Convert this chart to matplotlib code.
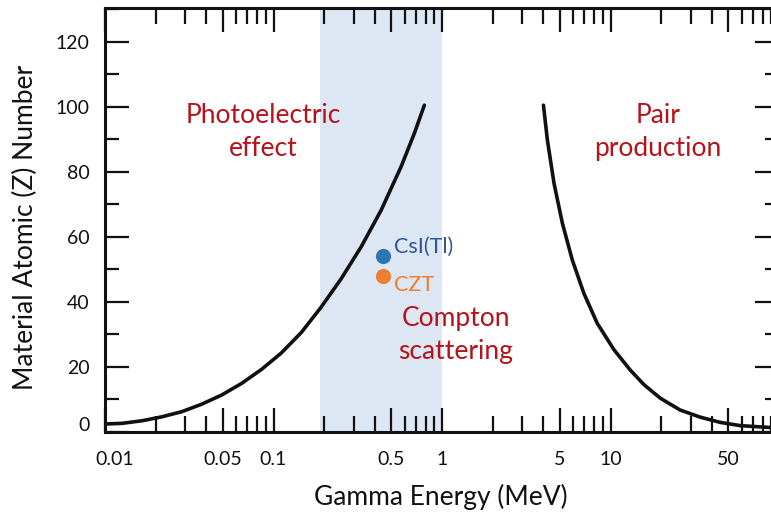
import numpy as np
import matplotlib.pyplot as plt
import matplotlib.transforms as mtransforms
from matplotlib.ticker import FixedLocator, NullFormatter

plt.rcParams['font.family'] = ['Lato', 'DejaVu Sans']

# photoelectric / compton boundary
pe_energy = [0.01, 0.0126, 0.0166, 0.0217, 0.0286, 0.0375, 0.0492, 0.0647, 0.0849,
             0.111, 0.1465, 0.192, 0.253, 0.332, 0.4355, 0.572, 0.685, 0.786]
pe_z = [2.4, 2.6, 3.4, 4.6, 6.2, 8.5, 11.3, 14.9, 19.2,
        24.2, 30.6, 38.4, 47.2, 57.0, 68.2, 81.6, 91.8, 100.5]

# compton / pair production boundary
pp_energy = [4.0, 4.22, 4.62, 5.18, 5.93, 6.95, 8.34, 10.5, 13.1, 15.8,
             19.8, 25.9, 34.1, 44.8, 58.8, 90.0]
pp_z = [100.5, 89.8, 76.5, 64.2, 52.9, 42.6, 33.4, 25.2, 19.0, 14.5,
        10.3, 6.7, 4.5, 2.9, 1.9, 1.3]

band = (0.19, 1.0)  # shaded energy band

materials = ['CsI(Tl)', 'CZT']
mat_energy = [0.445, 0.445]
mat_z = [54, 48]
mat_colors = ['#2e75b6', '#ed7d31']
mat_text_colors = ['#2f5597', '#ed7d31']

x_major = [0.01, 0.05, 0.1, 0.5, 1, 5, 10, 50, 100]
x_labels = ['0.01', '0.05', '0.1', '0.5', '1', '5', '10', '50', '']
x_minor = [m * d for d in [0.01, 0.1, 1, 10] for m in [2, 3, 4, 6, 7, 8, 9]]

red = '#b5121b'

fig = plt.figure(figsize=(7.71, 5.16), dpi=100)
ax = fig.add_axes([105 / 771, 84.2 / 516, 674 / 771, 423.8 / 516])

ax.axvspan(*band, color='#dce7f3', lw=0, zorder=0)
ax.plot(pe_energy, pe_z, color='#111111', lw=2.6, solid_capstyle='round', zorder=2)
ax.plot(pp_energy, pp_z, color='#111111', lw=2.6, solid_capstyle='round', zorder=2)

for name, e, z, c, tc in zip(materials, mat_energy, mat_z, mat_colors, mat_text_colors):
    ax.scatter([e], [z], s=120, color=c, zorder=3, lw=0)
    dy = -6.5 if name == 'CZT' else 6.5
    ax.annotate(name, (e, z), xytext=(8, dy), textcoords='offset points',
                color=tc, fontsize=15.5, va='center', ha='left')

ax.text(0.0873, 92.2, 'Photoelectric\neffect', color=red, fontsize=19,
        ha='center', va='center', linespacing=1.4)
ax.text(1.21, 29.8, 'Compton\nscattering', color=red, fontsize=19,
        ha='center', va='center', linespacing=1.4)
ax.text(19.2, 92.2, 'Pair\nproduction', color=red, fontsize=19,
        ha='center', va='center', linespacing=1.4)

ax.set_xscale('log')
ax.set_xlim(0.01, 100)
ax.set_ylim(0, 130.4)

ax.xaxis.set_major_locator(FixedLocator(x_major))
ax.set_xticklabels(x_labels)
ax.xaxis.set_minor_locator(FixedLocator(x_minor))
ax.xaxis.set_minor_formatter(NullFormatter())
ax.set_yticks(np.arange(0, 121, 20))
ax.set_yticks(np.arange(10, 131, 20), minor=True)

ax.tick_params(axis='both', which='both', direction='in', top=True, right=True,
               width=1.6, color='#111111', labelsize=14, labelcolor='#111111')
ax.tick_params(axis='x', which='major', length=17, pad=14)
ax.tick_params(axis='x', which='minor', length=11.5)
ax.tick_params(axis='y', which='major', length=17, pad=11)
ax.tick_params(axis='y', which='minor', length=10)

# first x label sits a little right of the spine in the original
first = ax.get_xticklabels()[0]
first.set_transform(first.get_transform() +
                    mtransforms.ScaledTranslation(10 / 100, 0, fig.dpi_scale_trans))
# and the "0" on the y axis sits a bit above the bottom spine
zero = ax.get_yticklabels()[0]
zero.set_transform(zero.get_transform() +
                   mtransforms.ScaledTranslation(0, 8 / 100, fig.dpi_scale_trans))

for s in ax.spines.values():
    s.set_linewidth(2.2)
    s.set_color('#111111')

ax.set_xlabel('Gamma Energy (MeV)', fontsize=19, color='#111111')
ax.set_ylabel('Material Atomic (Z) Number', fontsize=19, color='#111111')
ax.xaxis.label.set_verticalalignment('center')
ax.yaxis.label.set_verticalalignment('center')
ax.xaxis.set_label_coords(0.4985, -0.154)
ax.yaxis.set_label_coords(-0.1187, 0.483)

fig.savefig('out.png', dpi=100)
